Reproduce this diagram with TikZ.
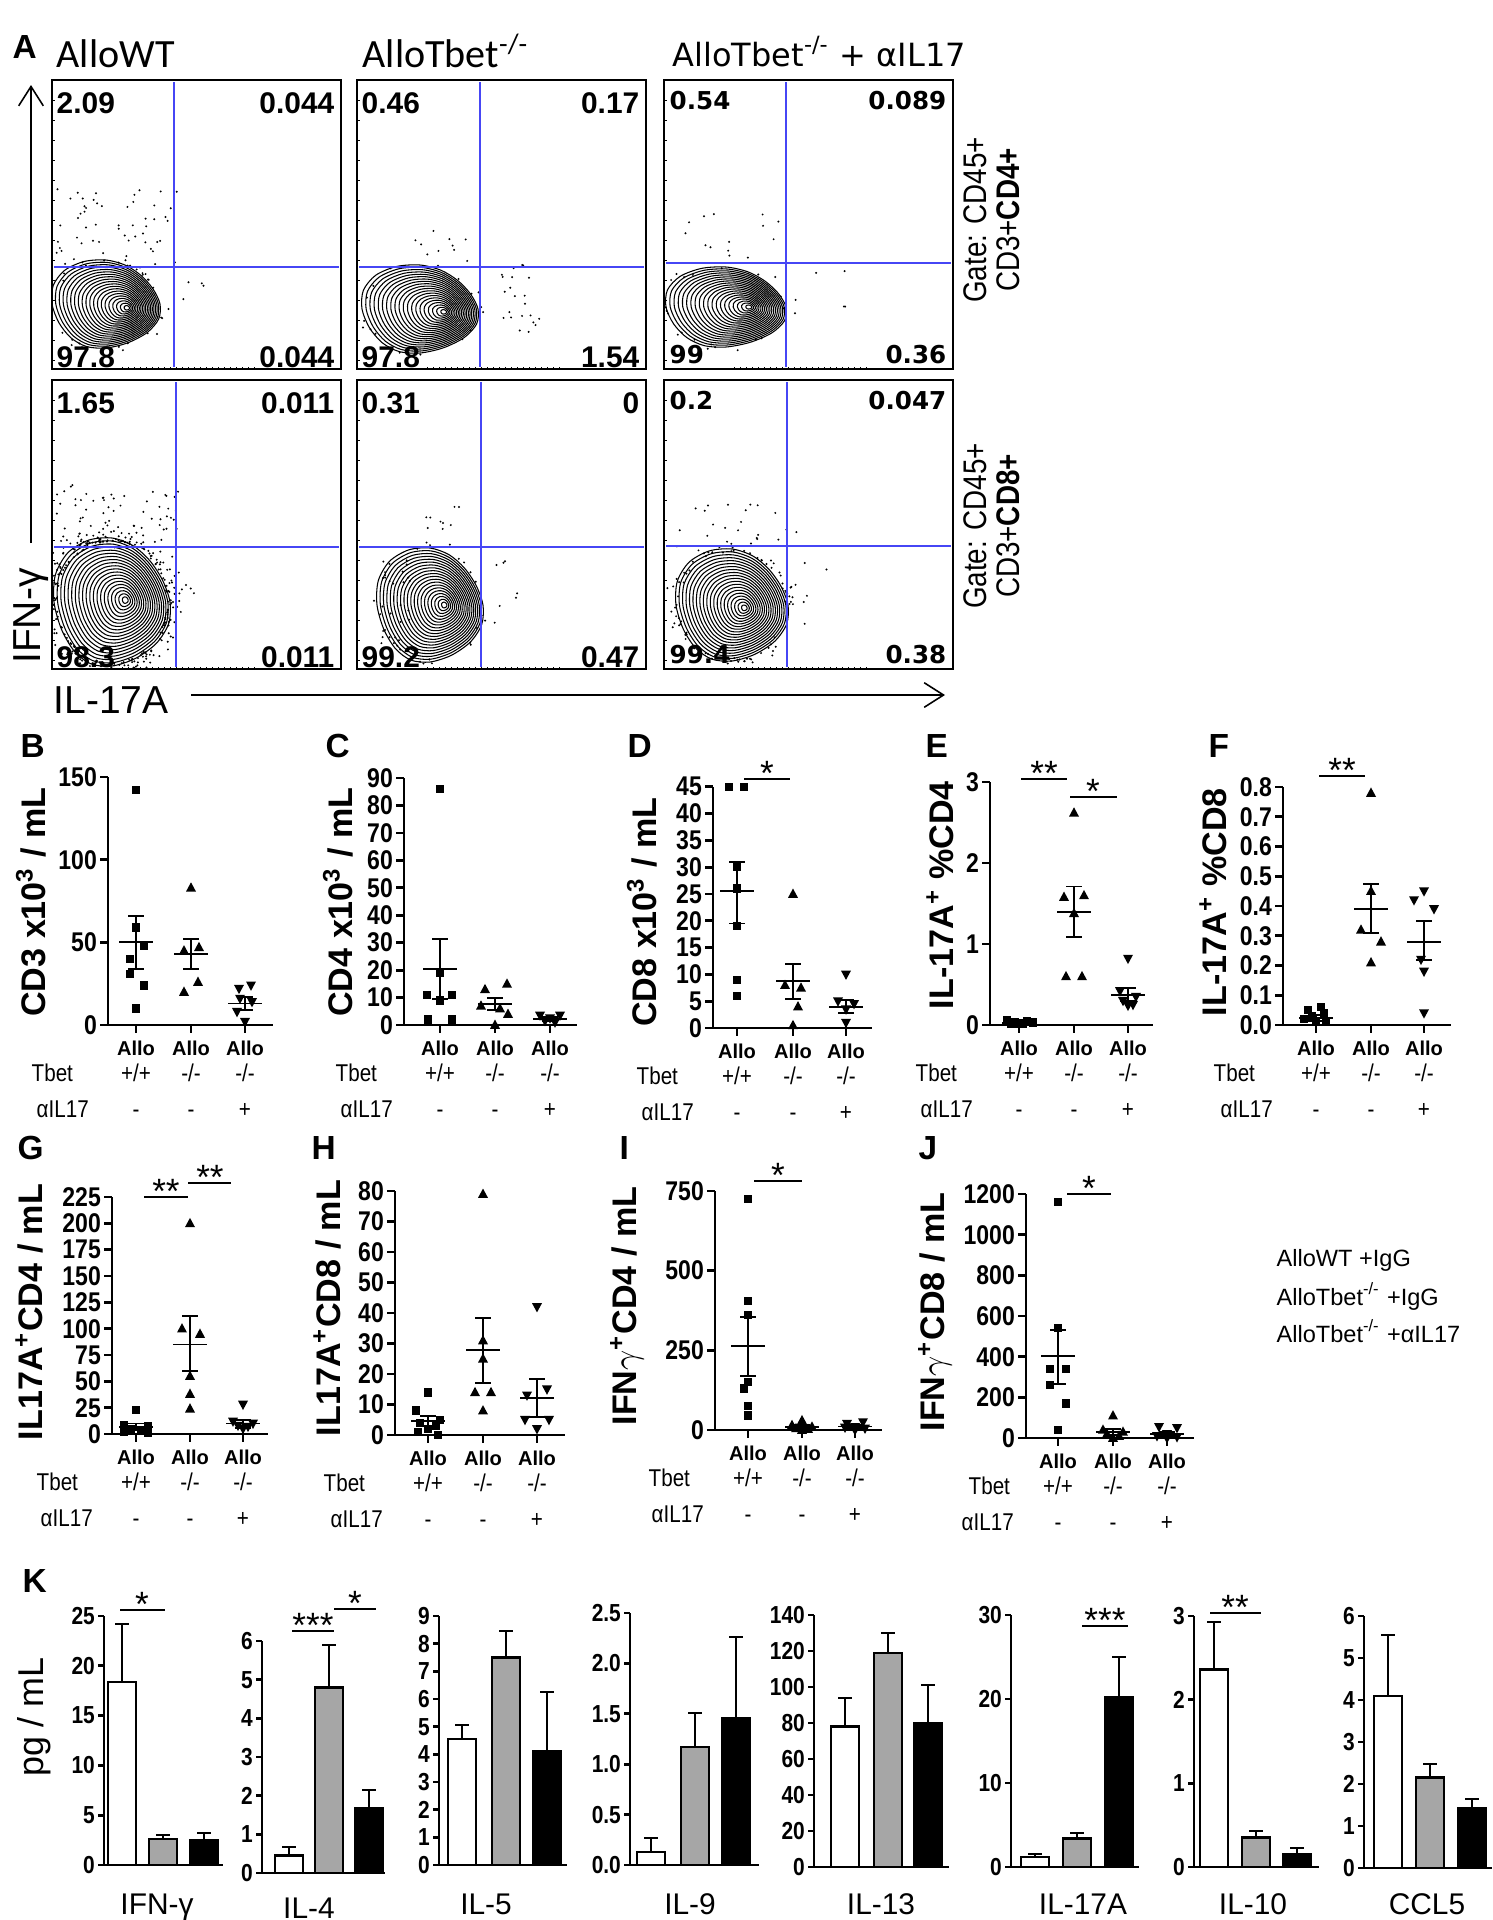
\documentclass[tikz,border=0pt]{standalone}
\usepackage{fontspec}
\setmainfont{Liberation Sans}
\newfontfamily\calfont{Carlito}
\newfontfamily\verfont{DejaVu Sans}
\newfontfamily\estrecha{Liberation Sans}[FakeStretch=0.85]
\usetikzlibrary{arrows.meta}
\definecolor{azul}{RGB}{70,70,245}
\definecolor{gris}{RGB}{166,166,166}
\tikzset{
  eje/.style={line width=0.8pt},
  err/.style={line width=0.55pt},
  caja/.style={line width=0.45pt},
  cuad/.style={line width=0.45pt,azul},
  curva/.style={line width=0.3pt},
  fino/.style={line width=0.25pt},
  flecha/.style={line width=0.45pt,-{Straight Barb[length=5.5pt,width=7pt]}},
  titulo/.style={font=\calfont\fontsize{11.4}{13}\selectfont,anchor=base west,inner sep=0},
  letra/.style={font=\bfseries\fontsize{9.5}{11}\selectfont,anchor=base west,inner sep=0},
  num/.style={font=\bfseries\fontsize{8.5}{10}\selectfont,inner sep=0},
  numv/.style={font=\verfont\bfseries\fontsize{7}{8}\selectfont,inner sep=0},
  gate/.style={font=\estrecha\fontsize{9.3}{9.4}\selectfont,rotate=90,align=center,inner sep=0},
  eti/.style={font=\fontsize{11.1}{13}\selectfont,inner sep=0},
  tic/.style={font=\estrecha\bfseries\fontsize{7.7}{9}\selectfont,anchor=east,inner sep=0.5pt},
  ticK/.style={font=\estrecha\bfseries\fontsize{7}{8}\selectfont,anchor=east,inner sep=0.5pt},
  allo/.style={font=\bfseries\fontsize{5.7}{7}\selectfont,anchor=base,inner sep=0},
  cat/.style={font=\estrecha\fontsize{6.9}{8}\selectfont,anchor=base,inner sep=0},
  ylab/.style={font=\bfseries\fontsize{9.7}{11}\selectfont,rotate=90,inner sep=0},
  star/.style={font=\fontsize{10}{11}\selectfont,anchor=base,inner sep=0},
  klab/.style={font=\fontsize{8.5}{10}\selectfont,anchor=base,inner sep=0},
  leyenda/.style={font=\fontsize{6.7}{8}\selectfont,anchor=base west,inner sep=0},
  sq/.pic={\fill (-4.2,-4.2) rectangle (4.2,4.2);},
  tu/.pic={\fill (-5,3.8) -- (5,3.8) -- (0,-5.5) -- cycle;},
  td/.pic={\fill (-5,-3.8) -- (5,-3.8) -- (0,5.5) -- cycle;},
}
% curvas de nivel
\newcommand{\Contorno}[6]{%
  \foreach \Kc in {1,...,20}{%
    \pgfmathsetmacro{\Tf}{\Kc/20}%
    \draw[curva] plot[smooth cycle,domain=0:337.5,samples=16,variable=\An]
      ({#1+#5*(1-\Tf)+#3*\Tf*cos(\An)*(1+0.08*sin(2*\An))},
       {#2+#6*(1-\Tf)+#4*\Tf*sin(\An)*(1-0.12*cos(\An))});}}
\newcommand{\Puntos}[7]{\pgfmathsetseed{#1}%
  \foreach \Ic in {1,...,#2}{%
    \pgfmathsetmacro{\Ang}{360*rnd}%
    \pgfmathsetmacro{\Ese}{0.95+#7*rnd*rnd}%
    \fill ({#3+#5*\Ese*cos(\Ang)},{#4+#6*\Ese*sin(\Ang)}) circle (1.1);}}
\newcommand{\Nube}[6]{\pgfmathsetseed{#1}%
  \foreach \Ic in {1,...,#2}{\fill ({#3+#5*rnd},{#4+#6*rnd}) circle (1.1);}}
\newcommand{\Cito}[4]{%
  \draw[cuad] (#3,{#2+2}) -- (#3,{#2+287});
  \draw[cuad] ({#1+2},#4) -- ({#1+287},#4);
  \draw[caja] (#1,#2) rectangle ({#1+289},{#2+289});
  \foreach \Tc in {20,40,...,280} \draw[fino] (#1,{#2+\Tc}) -- ++(2.5,0);
  \foreach \Tc in {70,76,...,206} \draw[fino] ({#1+\Tc},{#2+289}) -- ++(0,-2.5);}
% ejes x de los puntos
\newcommand{\Grupos}[6]{%
  \foreach \Xc in {#1,#2,#3} \draw[eje] (\Xc,\Yz) -- ++(0,8);
  \node[allo] (#6a) at (#1,{\Yz+30}) {Allo};
  \node[allo] (#6b) at (#2,{\Yz+30}) {Allo};
  \node[allo] (#6c) at (#3,{\Yz+30}) {Allo};
  \node[cat] (#6d) at (#1,{\Yz+56}) {+/+};
  \node[cat] (#6e) at (#2,{\Yz+56}) {-/-};
  \node[cat] (#6f) at (#3,{\Yz+56}) {-/-};
  \node[cat] (#6g) at (#1,{\Yz+92}) {-};
  \node[cat] (#6h) at (#2,{\Yz+92}) {-};
  \node[cat] (#6i) at (#3,{\Yz+92}) {+};
  \node[cat,anchor=base west] (#6j) at (#4,{\Yz+56}) {Tbet};
  \node[cat,anchor=base west] (#6k) at (#5,{\Yz+92}) {αIL17};}
\newcommand{\Media}[4]{%
  \draw[err] ({#1-17},{\Yz-#2*\Es}) -- ({#1+17},{\Yz-#2*\Es});
  \draw[err] (#1,{\Yz-#3*\Es}) -- (#1,{\Yz-#4*\Es});
  \draw[err] ({#1-8},{\Yz-#3*\Es}) -- ({#1+8},{\Yz-#3*\Es});
  \draw[err] ({#1-8},{\Yz-#4*\Es}) -- ({#1+8},{\Yz-#4*\Es});}
\newcommand{\Datos}[3]{\foreach \Dx/\Val in {#3} \pic at ({#1+\Dx},{\Yz-\Val*\Es}) {#2};}
\newcommand{\Barra}[4]{%
  \draw[err] ({#1+14},{\Yz-#2*\Es}) -- ({#1+14},{\Yz-#3*\Es});
  \draw[err] ({#1+7},{\Yz-#3*\Es}) -- ({#1+21},{\Yz-#3*\Es});
  \filldraw[fill=#4,draw=black,line width=0.7pt] (#1,\Yz) rectangle ({#1+28},{\Yz-#2*\Es});}
\begin{document}
\begin{tikzpicture}[x=0.01cm,y=-0.01cm]
\useasboundingbox (0,0) rectangle (1493,1920);
% A
\node[letra] (A) at (12,58) {A};
\node[titulo] (t1) at (56,67) {AlloWT};
\node[titulo] (t2) at (362,67) {AlloTbet\textsuperscript{-/-}};
\node[titulo,font=\verfont\fontsize{9.1}{11}\selectfont] (t3) at (672,66) {AlloTbet\textsuperscript{-/-} + αIL17};
\begin{scope}
  \clip (52,80) rectangle (341,369);
  \Contorno{106}{304}{54}{44}{22}{4}
  \Nube{11}{55}{56}{188}{122}{78}
  \Nube{13}{4}{175}{280}{30}{20}
  \Puntos{12}{35}{106}{304}{54}{44}{0.3}
\end{scope}
\begin{scope}
  \clip (357,80) rectangle (646,369);
  \Contorno{420}{309}{58}{44}{25}{3}
  \Nube{21}{25}{470}{255}{75}{85}
  \Nube{22}{10}{410}{225}{65}{40}
  \Puntos{23}{15}{420}{309}{58}{44}{0.2}
\end{scope}
\begin{scope}
  \clip (664,80) rectangle (953,369);
  \Contorno{726}{307}{60}{40}{24}{0}
  \Nube{31}{14}{670}{195}{130}{70}
  \Nube{33}{4}{790}{270}{60}{40}
  \Puntos{32}{25}{726}{307}{60}{40}{0.25}
\end{scope}
\begin{scope}
  \clip (52,380) rectangle (341,669);
  \Contorno{112}{602}{58}{64}{14}{-2}
  \Puntos{41}{280}{112}{602}{58}{64}{0.35}
  \Nube{42}{70}{55}{485}{125}{65}
  \Nube{43}{3}{180}{560}{15}{60}
\end{scope}
\begin{scope}
  \clip (357,380) rectangle (646,669);
  \Contorno{430}{605}{53}{57}{15}{0}
  \Nube{51}{25}{380}{560}{30}{90}
  \Nube{52}{12}{420}{505}{55}{45}
  \Nube{53}{8}{485}{560}{35}{70}
  \Puntos{54}{20}{430}{605}{53}{57}{0.15}
\end{scope}
\begin{scope}
  \clip (664,380) rectangle (953,669);
  \Contorno{732}{605}{56}{56}{13}{3}
  \Puntos{61}{90}{732}{605}{56}{56}{0.3}
  \Nube{62}{22}{670}{500}{130}{50}
  \Nube{63}{6}{790}{560}{40}{70}
\end{scope}
\Cito{52}{80}{174}{267}
\Cito{357}{80}{480}{267}
\Cito{664}{80}{786}{263}
\Cito{52}{380}{176}{547}
\Cito{357}{380}{481}{547}
\Cito{664}{380}{787}{546}
\foreach \Xc/\Yc/\Ta/\Tb/\Tc/\Td [count=\i] in
  {52/80/2.09/0.044/97.8/0.044, 357/80/0.46/0.17/97.8/1.54,
   52/380/1.65/0.011/98.3/0.011, 357/380/0.31/0/99.2/0.47}
{
  \node[num,anchor=base west] (qa\i) at ({\Xc+4},{\Yc+33}) {\Ta};
  \node[num,anchor=base east] (qb\i) at ({\Xc+283},{\Yc+33}) {\Tb};
  \node[num,anchor=base west] (qc\i) at ({\Xc+4},{\Yc+287}) {\Tc};
  \node[num,anchor=base east] (qd\i) at ({\Xc+283},{\Yc+287}) {\Td};
}
\foreach \Yc/\Ta/\Tb/\Tc/\Td [count=\i] in {80/0.54/0.089/99/0.36, 380/0.2/0.047/99.4/0.38}
{
  \node[numv,anchor=base west] (va\i) at (669,{\Yc+29}) {\Ta};
  \node[numv,anchor=base east] (vb\i) at (947,{\Yc+29}) {\Tb};
  \node[numv,anchor=base west] (vc\i) at (669,{\Yc+283}) {\Tc};
  \node[numv,anchor=base east] (vd\i) at (947,{\Yc+283}) {\Td};
}
\node[gate] (g4) at (992,220) {Gate: CD45+\\CD3+\textbf{CD4+}};
\node[gate] (g8) at (992,526) {Gate: CD45+\\CD3+\textbf{CD8+}};
\coordinate (ya) at (31,543);
\coordinate (yb) at (31,85);
\draw[flecha] (ya) -- (yb);
\coordinate (xa) at (191,695);
\coordinate (xb) at (945,695);
\draw[flecha] (xa) -- (xb);
\node[eti,rotate=90] (ifn) at (31,616) {IFN-γ};
\node[eti,anchor=base west] (il) at (53,713) {IL-17A};
% B
\node[letra] (B) at (20,757) {B};
\def\Xe{108}\def\Yz{1025}\def\Es{1.6533}
\draw[eje] (\Xe,{\Yz-150*\Es}) -- (\Xe,\Yz) -- (273,\Yz);
\foreach \Val [count=\i] in {0,50,100,150}
  \draw[eje] (\Xe,{\Yz-\Val*\Es}) -- ++(-8,0) node[tic] (bt\i) {\Val};
\node[ylab] (by) at (31,902) {CD3 x10\textsuperscript{3} / mL};
\Grupos{136}{191}{245}{31}{36}{bg}
\Datos{136}{sq}{0/142,0/59,8/48,-6/40,-6/31,8/24,0/10}
\Datos{191}{tu}{0/83,8/47,-7/45,7/26,-7/20}
\Datos{245}{td}{6/24,-6/22,-5/16,7/14,-8/8,0/2}
\Media{136}{50}{34}{66}
\Media{191}{43}{34}{52}
\Media{245}{13}{9}{17}
% C
\node[letra] (C) at (325,757) {C};
\def\Xe{404}\def\Yz{1025}\def\Es{2.744}
\draw[eje] (\Xe,{\Yz-90*\Es}) -- (\Xe,\Yz) -- (577,\Yz);
\foreach \Val [count=\i] in {0,10,...,90}
  \draw[eje] (\Xe,{\Yz-\Val*\Es}) -- ++(-8,0) node[tic] (ct\i) {\Val};
\node[ylab] (cy) at (338,902) {CD4 x10\textsuperscript{3} / mL};
\Grupos{440}{495}{550}{335}{340}{cg}
\Datos{440}{sq}{0/86,0/19,-13/11,12/11,0/9,-12/2,12/2}
\Datos{495}{tu}{12/15,-10/13,-14/7,5/6,13/4,0/0}
\Datos{550}{td}{-10/3.5,10/3.5,0/2.5,-5/1.5,5/1}
\Media{440}{20.5}{9.5}{31.5}
\Media{495}{7.5}{5.5}{9.8}
\Media{550}{2.2}{1.5}{3}
% D
\node[letra] (D) at (627,757) {D};
\def\Xe{713}\def\Yz{1028}\def\Es{5.36}
\draw[eje] (\Xe,{\Yz-45*\Es}) -- (\Xe,\Yz) -- (872,\Yz);
\foreach \Val [count=\i] in {0,5,...,45}
  \draw[eje] (\Xe,{\Yz-\Val*\Es}) -- ++(-8,0) node[tic] (dt\i) {\Val};
\node[ylab] (dy) at (642,912) {CD8 x10\textsuperscript{3} / mL};
\Grupos{737}{793}{846}{636}{641}{dg}
\Datos{737}{sq}{-8/45,7/45,0/30,0/26,0/19,0/9,0/6}
\Datos{793}{tu}{0/25,-8/8,8/7.5,5/4,0/0.5}
\Datos{846}{td}{0/10,-8/5,8/4.5,0/3.5,0/1}
\Media{737}{25.5}{19.5}{31}
\Media{793}{8.8}{5.5}{12}
\Media{846}{4}{2.8}{5.3}
\draw[err] (744,779) -- (790,779);
\node[star] (ds) at (767,785) {*};
% E
\node[letra] (E) at (925,757) {E};
\def\Xe{990}\def\Yz{1025}\def\Es{81}
\draw[eje] (\Xe,{\Yz-3*\Es}) -- (\Xe,\Yz) -- (1153,\Yz);
\foreach \Val [count=\i] in {0,1,2,3}
  \draw[eje] (\Xe,{\Yz-\Val*\Es}) -- ++(-8,0) node[tic] (et\i) {\Val};
\node[ylab] (ey) at (940,895) {IL-17A\textsuperscript{+} \%CD4};
\Grupos{1019}{1074}{1128}{915}{920}{eg}
\Datos{1019}{sq}{-12/0.06,8/0.05,-4/0.04,14/0.03,-8/0.02,4/0.02,0/0.01}
\Datos{1074}{tu}{0/2.62,10/1.6,-10/1.58,0/1.38,-8/0.6,8/0.6}
\Datos{1128}{td}{0/0.82,-8/0.42,8/0.35,-5/0.3,5/0.25,0/0.24}
\Media{1019}{0.03}{0.02}{0.04}
\Media{1074}{1.4}{1.09}{1.71}
\Media{1128}{0.37}{0.3}{0.46}
\draw[err] (1021,779) -- (1067,779);
\node[star] (es1) at (1044,785) {**};
\draw[err] (1070,797) -- (1117,797);
\node[star] (es2) at (1093,803) {*};
% F
\node[letra] (F) at (1208,757) {F};
\def\Xe{1283}\def\Yz{1025}\def\Es{297.5}
\draw[eje] (\Xe,{\Yz-0.8*\Es}) -- (\Xe,\Yz) -- (1451,\Yz);
\foreach \Val [count=\i] in {0.0,0.1,0.2,0.3,0.4,0.5,0.6,0.7,0.8}
  \draw[eje] (\Xe,{\Yz-\Val*\Es}) -- ++(-8,0) node[tic] (ft\i) {\Val};
\node[ylab] (fy) at (1213,902) {IL-17A\textsuperscript{+} \%CD8};
\Grupos{1316}{1371}{1424}{1213}{1220}{fg}
\Datos{1316}{sq}{5/0.06,-8/0.05,8/0.04,-4/0.03,-12/0.02,0/0.01,10/0.01}
\Datos{1371}{tu}{0/0.78,0/0.45,-10/0.32,10/0.28,0/0.21}
\Datos{1424}{td}{0/0.45,-10/0.42,10/0.39,-3/0.22,0/0.18,0/0.04}
\Media{1316}{0.025}{0.015}{0.035}
\Media{1371}{0.39}{0.31}{0.475}
\Media{1424}{0.28}{0.22}{0.35}
\draw[err] (1319,776) -- (1365,776);
\node[star] (fs) at (1342,782) {**};
% G
\node[letra] (G) at (17,1159) {G};
\def\Xe{112}\def\Yz{1434}\def\Es{1.0533}
\draw[eje] (\Xe,{\Yz-225*\Es}) -- (\Xe,\Yz) -- (268,\Yz);
\foreach \Val [count=\i] in {0,25,...,225}
  \draw[eje] (\Xe,{\Yz-\Val*\Es}) -- ++(-8,0) node[tic] (gt\i) {\Val};
\node[ylab] (gy) at (29,1312) {IL17A\textsuperscript{+}CD4 / mL};
\Grupos{136}{190}{243}{36}{40}{gg}
\Datos{136}{sq}{0/23,-12/8,12/7,-5/5,5/4,-12/2,12/1}
\Datos{190}{tu}{0/200,-8/100,10/95,0/55,0/38,0/24}
\Datos{243}{td}{0/28,-10/12,10/10,-5/8,5/7,0/5}
\Media{136}{7}{4}{10}
\Media{190}{85}{60}{112}
\Media{243}{10}{6}{13}
\draw[err] (144,1197) -- (188,1197);
\node[star] (gs1) at (166,1203) {**};
\draw[err] (188,1183) -- (231,1183);
\node[star] (gs2) at (210,1189) {**};
% H
\node[letra] (H) at (311,1159) {H};
\def\Xe{395}\def\Yz{1435}\def\Es{3.05}
\draw[eje] (\Xe,{\Yz-80*\Es}) -- (\Xe,\Yz) -- (565,\Yz);
\foreach \Val [count=\i] in {0,10,...,80}
  \draw[eje] (\Xe,{\Yz-\Val*\Es}) -- ++(-8,0) node[tic] (ht\i) {\Val};
\node[ylab] (hy) at (327,1308) {IL17A\textsuperscript{+}CD8 / mL};
\Grupos{428}{483}{537}{323}{330}{hg}
\Datos{428}{sq}{0/14,-12/8,12/5,-8/4,8/3,0/2,-10/1,10/0}
\Datos{483}{tu}{0/79,0/31,0/25,-8/14,8/14,0/8}
\Datos{537}{td}{0/42,10/15,-10/13,-12/5,12/5,0/2}
\Media{428}{4.5}{3}{6.2}
\Media{483}{28}{17}{38.5}
\Media{537}{12}{6}{18.5}
% I
\node[letra] (I) at (619,1159) {I};
\def\Xe{715}\def\Yz{1430}\def\Es{0.3187}
\draw[eje] (\Xe,{\Yz-750*\Es}) -- (\Xe,\Yz) -- (882,\Yz);
\foreach \Val [count=\i] in {0,250,500,750}
  \draw[eje] (\Xe,{\Yz-\Val*\Es}) -- ++(-8,0) node[tic] (it\i) {\Val};
\node[ylab] (iy) at (627,1306) {IFN$\gamma$\textsuperscript{+}CD4 / mL};
\Grupos{748}{802}{855}{648}{651}{ig}
\Datos{748}{sq}{0/725,0/405,0/360,0/150,-4/130,0/75,0/45}
\Datos{802}{tu}{0/30,-10/15,10/10,-6/5,6/3,0/0}
\Datos{855}{td}{8/25,-8/20,0/10,-10/8,10/5,0/0}
\Media{748}{265}{170}{355}
\Media{802}{10}{5}{15}
\Media{855}{11}{6}{16}
\draw[err] (754,1181) -- (802,1181);
\node[star] (is) at (778,1187) {*};
% J
\node[letra] (J) at (918,1159) {J};
\def\Xe{1026}\def\Yz{1438}\def\Es{0.2033}
\draw[eje] (\Xe,{\Yz-1200*\Es}) -- (\Xe,\Yz) -- (1194,\Yz);
\foreach \Val [count=\i] in {0,200,...,1200}
  \draw[eje] (\Xe,{\Yz-\Val*\Es}) -- ++(-8,0) node[tic] (jt\i) {\Val};
\node[ylab] (jy) at (935,1312) {IFN$\gamma$\textsuperscript{+}CD8 / mL};
\Grupos{1058}{1113}{1167}{968}{961}{jg}
\Datos{1058}{sq}{0/1160,0/540,-8/340,8/340,-8/260,8/170,0/40}
\Datos{1113}{tu}{0/110,-10/40,10/30,-6/20,6/10,0/0}
\Datos{1167}{td}{-8/55,10/50,0/20,-10/10,10/5,0/0}
\Media{1058}{405}{265}{530}
\Media{1113}{30}{15}{45}
\Media{1167}{20}{10}{30}
\draw[err] (1067,1194) -- (1111,1194);
\node[star] (js) at (1089,1200) {*};
% leyenda
\node[leyenda] (l1) at (1276,1266) {AlloWT +IgG};
\node[leyenda] (l2) at (1276,1305) {AlloTbet\textsuperscript{-/-} +IgG};
\node[leyenda] (l3) at (1276,1342) {AlloTbet\textsuperscript{-/-} +αIL17};
% K
\node[letra] (K) at (22,1592) {K};
\node[eti,rotate=90,font=\fontsize{10.2}{12}\selectfont] (pg) at (34,1717) {pg / mL};
% IFN-g
\def\Xe{104}\def\Yz{1865}\def\Es{9.96}
\draw[eje] (\Xe,{\Yz-25*\Es}) -- (\Xe,\Yz) -- (223,\Yz);
\foreach \Val [count=\i] in {0,5,...,25}
  \draw[eje] (\Xe,{\Yz-\Val*\Es}) -- ++(-6,0) node[ticK] (k1t\i) {\Val};
\Barra{108}{18.4}{24.2}{white}
\Barra{149}{2.6}{3.0}{gris}
\Barra{190}{2.5}{3.2}{black}
\draw[err] (120,1610) -- (165,1610);
\node[star] (k1s) at (142,1616) {*};
\node[klab] (k1) at (157,1914) {IFN-γ};
% IL-4
\def\Xe{262}\def\Yz{1873}\def\Es{38.67}
\draw[eje] (\Xe,{\Yz-6*\Es}) -- (\Xe,\Yz) -- (385,\Yz);
\foreach \Val [count=\i] in {0,...,6}
  \draw[eje] (\Xe,{\Yz-\Val*\Es}) -- ++(-6,0) node[ticK] (k2t\i) {\Val};
\Barra{275}{0.45}{0.68}{white}
\Barra{315}{4.8}{5.9}{gris}
\Barra{355}{1.68}{2.15}{black}
\draw[err] (292,1631) -- (334,1631);
\node[star] (k2s1) at (313,1637) {***};
\draw[err] (334,1609) -- (376,1609);
\node[star] (k2s2) at (355,1615) {*};
\node[klab] (k2) at (309,1918) {IL-4};
% IL-5
\def\Xe{439}\def\Yz{1865}\def\Es{27.67}
\draw[eje] (\Xe,{\Yz-9*\Es}) -- (\Xe,\Yz) -- (567,\Yz);
\foreach \Val [count=\i] in {0,...,9}
  \draw[eje] (\Xe,{\Yz-\Val*\Es}) -- ++(-6,0) node[ticK] (k3t\i) {\Val};
\Barra{448}{4.55}{5.05}{white}
\Barra{492}{7.5}{8.45}{gris}
\Barra{533}{4.1}{6.25}{black}
\node[klab] (k3) at (486,1914) {IL-5};
% IL-9
\def\Xe{630}\def\Yz{1865}\def\Es{100.8}
\draw[eje] (\Xe,{\Yz-2.5*\Es}) -- (\Xe,\Yz) -- (759,\Yz);
\foreach \Val [count=\i] in {0.0,0.5,1.0,1.5,2.0,2.5}
  \draw[eje] (\Xe,{\Yz-\Val*\Es}) -- ++(-6,0) node[ticK] (k4t\i) {\Val};
\Barra{637}{0.13}{0.27}{white}
\Barra{681}{1.17}{1.51}{gris}
\Barra{722}{1.46}{2.26}{black}
\node[klab] (k4) at (690,1914) {IL-9};
% IL-13
\def\Xe{814}\def\Yz{1867}\def\Es{1.8}
\draw[eje] (\Xe,{\Yz-140*\Es}) -- (\Xe,\Yz) -- (949,\Yz);
\foreach \Val [count=\i] in {0,20,...,140}
  \draw[eje] (\Xe,{\Yz-\Val*\Es}) -- ++(-6,0) node[ticK] (k5t\i) {\Val};
\Barra{831}{78}{94}{white}
\Barra{874}{119}{130}{gris}
\Barra{914}{80}{101}{black}
\node[klab] (k5) at (881,1914) {IL-13};
% IL-17A
\def\Xe{1011}\def\Yz{1867}\def\Es{8.4}
\draw[eje] (\Xe,{\Yz-30*\Es}) -- (\Xe,\Yz) -- (1139,\Yz);
\foreach \Val [count=\i] in {0,10,20,30}
  \draw[eje] (\Xe,{\Yz-\Val*\Es}) -- ++(-6,0) node[ticK] (k6t\i) {\Val};
\Barra{1021}{1.2}{1.6}{white}
\Barra{1063}{3.4}{4.0}{gris}
\Barra{1105}{20.2}{25}{black}
\draw[err] (1082,1626) -- (1128,1626);
\node[star] (k6s) at (1105,1632) {***};
\node[klab] (k6) at (1083,1914) {IL-17A};
% IL-10
\def\Xe{1194}\def\Yz{1867}\def\Es{83.7}
\draw[eje] (\Xe,{\Yz-3*\Es}) -- (\Xe,\Yz) -- (1319,\Yz);
\foreach \Val [count=\i] in {0,1,2,3}
  \draw[eje] (\Xe,{\Yz-\Val*\Es}) -- ++(-6,0) node[ticK] (k7t\i) {\Val};
\Barra{1200}{2.36}{2.93}{white}
\Barra{1242}{0.35}{0.43}{gris}
\Barra{1283}{0.15}{0.23}{black}
\draw[err] (1210,1613) -- (1261,1613);
\node[star] (k7s) at (1235,1619) {**};
\node[klab] (k7) at (1253,1914) {IL-10};
% CCL5
\def\Xe{1364}\def\Yz{1868}\def\Es{42}
\draw[eje] (\Xe,{\Yz-6*\Es}) -- (\Xe,\Yz) -- (1492,\Yz);
\foreach \Val [count=\i] in {0,...,6}
  \draw[eje] (\Xe,{\Yz-\Val*\Es}) -- ++(-6,0) node[ticK] (k8t\i) {\Val};
\Barra{1374}{4.1}{5.55}{white}
\Barra{1416}{2.15}{2.47}{gris}
\Barra{1458}{1.42}{1.65}{black}
\node[klab] (k8) at (1427,1914) {CCL5};
\end{tikzpicture}
\end{document}
